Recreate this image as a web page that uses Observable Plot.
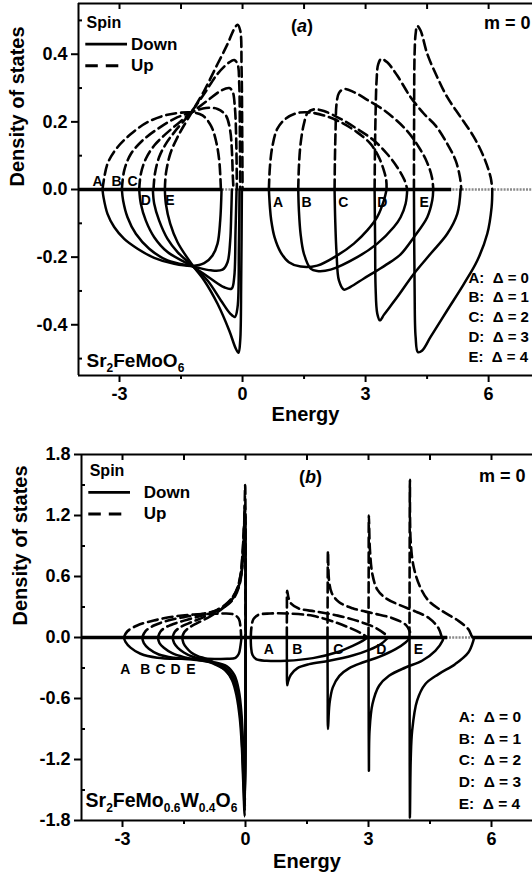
<!DOCTYPE html>
<html><head><meta charset="utf-8">
<script src="https://cdn.jsdelivr.net/npm/d3@7"></script>
<script src="https://cdn.jsdelivr.net/npm/@observablehq/plot@0.6"></script>
<style>
html,body{margin:0;padding:0;background:#fff;}
svg{display:block;}
</style></head><body><div id="chart"></div>
<script>
// ---------- ticks ----------
const xTicks = [-3, 0, 3, 6];
const xMinor = [-1.5, 1.5, 4.5];
const yTicksA = [-0.4, -0.2, 0, 0.2, 0.4];
const yMinorA = [-0.5, -0.3, -0.1, 0.1, 0.3, 0.5];
const yTicksB = [-1.8, -1.2, -0.6, 0, 0.6, 1.2, 1.8];
const yMinorB = [-1.5, -0.9, -0.3, 0.3, 0.9, 1.5];
const deltaNames = ["A", "B", "C", "D", "E"];
const deltaValues = [0, 1, 2, 3, 4];

// ---------- panel (a): Sr2FeMoO6, [energy, DOS] ----------
const aLowDownA = [[-3.415,0],[-3.39,-0.023],[-3.293,-0.072],[-3.13,-0.111],[-2.886,-0.146],[-2.561,-0.175],[-2.154,-0.202],[-1.667,-0.22],[-1.22,-0.226],[-0.935,-0.218],[-0.732,-0.195],[-0.61,-0.16],[-0.545,-0.092],[-0.512,0]];
const aLowDownB = [[-2.943,0],[-2.911,-0.033],[-2.805,-0.082],[-2.602,-0.131],[-2.276,-0.175],[-1.829,-0.21],[-1.22,-0.227],[-0.772,-0.239],[-0.488,-0.237],[-0.366,-0.215],[-0.301,-0.151],[-0.276,-0.072],[-0.26,0]];
const aLowDownC = [[-2.52,0],[-2.48,-0.042],[-2.358,-0.092],[-2.154,-0.141],[-1.829,-0.185],[-1.22,-0.227],[-0.772,-0.264],[-0.447,-0.289],[-0.268,-0.293],[-0.203,-0.259],[-0.171,-0.121],[-0.146,0]];
const aLowDownD = [[-2.187,0],[-2.154,-0.042],[-2.033,-0.092],[-1.829,-0.146],[-1.585,-0.185],[-1.22,-0.226],[-0.854,-0.269],[-0.528,-0.328],[-0.301,-0.367],[-0.187,-0.377],[-0.122,-0.348],[-0.089,-0.17],[-0.073,0]];
const aLowDownE = [[-1.894,0],[-1.87,-0.042],[-1.764,-0.101],[-1.585,-0.156],[-1.22,-0.224],[-0.935,-0.269],[-0.61,-0.338],[-0.325,-0.417],[-0.163,-0.471],[-0.098,-0.483],[-0.057,-0.446],[-0.033,-0.269],[-0.016,0]];

const aLowUpA = [[-3.415,0],[-3.293,0.076],[-3.049,0.125],[-2.724,0.164],[-2.317,0.199],[-1.829,0.221],[-1.26,0.228],[-0.976,0.219],[-0.772,0.189],[-0.65,0.145],[-0.569,0.086],[-0.528,0]];
const aLowUpB = [[-2.943,0],[-2.886,0.056],[-2.724,0.105],[-2.439,0.145],[-2.073,0.179],[-1.667,0.209],[-1.26,0.228],[-0.894,0.241],[-0.61,0.238],[-0.407,0.219],[-0.301,0.174],[-0.26,0.115],[-0.236,0.036],[-0.22,0]];
const aLowUpC = [[-2.52,0],[-2.48,0.046],[-2.358,0.091],[-2.154,0.13],[-1.911,0.16],[-1.585,0.194],[-1.26,0.226],[-0.854,0.263],[-0.528,0.292],[-0.325,0.3],[-0.244,0.29],[-0.187,0.243],[-0.154,0.145],[-0.138,0]];
const aLowUpD = [[-2.171,0],[-2.138,0.046],[-2.033,0.096],[-1.87,0.135],[-1.667,0.169],[-1.26,0.228],[-0.935,0.283],[-0.61,0.342],[-0.325,0.376],[-0.203,0.383],[-0.122,0.371],[-0.081,0.312],[-0.065,0.164],[-0.057,0]];
const aLowUpE = [[-1.894,0],[-1.87,0.046],[-1.764,0.105],[-1.585,0.155],[-1.26,0.224],[-0.935,0.292],[-0.61,0.371],[-0.366,0.43],[-0.203,0.475],[-0.122,0.487],[-0.057,0.47],[-0.024,0.361],[-0.008,0.164],[0,0]];

const aHighDownA = [[0.642,0],[0.667,-0.052],[0.699,-0.091],[0.78,-0.141],[0.927,-0.185],[1.13,-0.215],[1.415,-0.228],[1.82,-0.225],[2.309,-0.195],[2.715,-0.16],[3.04,-0.121],[3.285,-0.081],[3.447,-0.032],[3.512,0]];
const aHighDownB = [[1.358,0],[1.374,-0.062],[1.415,-0.131],[1.496,-0.19],[1.659,-0.234],[1.82,-0.241],[2.146,-0.237],[2.797,-0.2],[3.285,-0.16],[3.69,-0.111],[3.854,-0.082],[3.976,-0.042],[4.016,0]];
const aHighDownC = [[2.244,0],[2.26,-0.092],[2.293,-0.19],[2.35,-0.269],[2.472,-0.296],[2.634,-0.288],[2.959,-0.263],[3.285,-0.239],[3.61,-0.214],[3.854,-0.192],[4.179,-0.141],[4.504,-0.082],[4.626,-0.032],[4.65,0]];
const aHighDownD = [[3.22,0],[3.232,-0.15],[3.244,-0.289],[3.285,-0.367],[3.35,-0.387],[3.45,-0.37],[3.772,-0.318],[4.179,-0.249],[4.585,-0.19],[4.992,-0.131],[5.236,-0.072],[5.317,0]];
const aHighDownE = [[4.179,0],[4.195,-0.289],[4.22,-0.436],[4.276,-0.481],[4.382,-0.476],[4.585,-0.436],[4.992,-0.357],[5.398,-0.279],[5.724,-0.21],[5.967,-0.131],[6.073,-0.052],[6.089,0]];

const aHighUpA = [[0.642,0],[0.667,0.066],[0.724,0.125],[0.846,0.179],[1.049,0.209],[1.333,0.226],[1.618,0.228],[1.984,0.219],[2.39,0.199],[2.797,0.169],[3.122,0.135],[3.325,0.095],[3.447,0.056],[3.504,0.027],[3.512,0]];
const aHighUpB = [[1.358,0],[1.374,0.066],[1.415,0.135],[1.496,0.194],[1.593,0.228],[1.74,0.237],[1.984,0.232],[2.39,0.209],[2.797,0.179],[3.203,0.145],[3.528,0.105],[3.772,0.066],[3.951,0.027],[4.016,0]];
const aHighUpC = [[2.244,0],[2.252,0.086],[2.268,0.175],[2.293,0.254],[2.35,0.285],[2.472,0.297],[2.715,0.288],[3.04,0.265],[3.5,0.23],[4.0,0.175],[4.3,0.125],[4.5,0.08],[4.62,0.035],[4.65,0]];
const aHighUpD = [[3.22,0],[3.228,0.105],[3.244,0.224],[3.268,0.322],[3.309,0.371],[3.382,0.386],[3.528,0.376],[3.772,0.337],[4.098,0.273],[4.423,0.224],[4.707,0.189],[4.992,0.135],[5.195,0.086],[5.301,0.036],[5.333,0]];
const aHighUpE = [[4.179,0],[4.183,0.204],[4.195,0.401],[4.22,0.46],[4.26,0.484],[4.341,0.47],[4.504,0.401],[4.748,0.332],[4.992,0.273],[5.317,0.214],[5.642,0.155],[5.886,0.095],[6.049,0.036],[6.089,0]];

const aBaseThick = [[-4, -0.5], [-0.02, 5.1]];

// ---------- panel (b): Sr2FeMo0.6W0.4O6 ----------
const bLowDownA = [[-2.967,0],[-2.927,-0.043],[-2.805,-0.1],[-2.561,-0.16],[-2.154,-0.199],[-1.585,-0.21],[-0.935,-0.21],[-0.447,-0.21],[-0.244,-0.2],[-0.163,-0.16],[-0.122,-0.08],[-0.098,0]];
const bLowDownB = [[-2.52,0],[-2.48,-0.056],[-2.358,-0.111],[-2.114,-0.167],[-1.748,-0.2],[-1.26,-0.219],[-0.772,-0.242],[-0.447,-0.285],[-0.268,-0.373],[-0.163,-0.521],[-0.098,-0.75],[-0.057,-1.077],[-0.033,-1.405],[-0.012,-1.6],[0.004,0]];
const bLowDownC = [[-2.138,0],[-2.098,-0.056],[-1.992,-0.101],[-1.789,-0.154],[-1.504,-0.193],[-1.179,-0.219],[-0.772,-0.252],[-0.488,-0.298],[-0.301,-0.39],[-0.187,-0.537],[-0.114,-0.766],[-0.073,-1.077],[-0.041,-1.405],[-0.014,-1.66],[0.004,0]];
const bLowDownD = [[-1.78,0],[-1.74,-0.056],[-1.65,-0.101],[-1.504,-0.147],[-1.301,-0.187],[-1.057,-0.213],[-0.772,-0.259],[-0.528,-0.311],[-0.325,-0.406],[-0.203,-0.553],[-0.122,-0.783],[-0.081,-1.077],[-0.049,-1.405],[-0.016,-1.71],[0.004,0]];
const bLowDownE = [[-1.545,0],[-1.512,-0.056],[-1.439,-0.101],[-1.325,-0.147],[-1.163,-0.183],[-0.935,-0.213],[-0.691,-0.265],[-0.488,-0.324],[-0.325,-0.422],[-0.22,-0.57],[-0.138,-0.799],[-0.089,-1.077],[-0.057,-1.405],[-0.018,-1.76],[0.004,0]];

const bLowUpA = [[-2.967,0],[-2.886,0.059],[-2.642,0.118],[-2.236,0.167],[-1.748,0.206],[-1.26,0.226],[-0.854,0.232],[-0.528,0.236],[-0.285,0.226],[-0.163,0.183],[-0.122,0.101],[-0.106,0]];
const bLowUpB = [[-2.52,0],[-2.439,0.062],[-2.236,0.118],[-1.911,0.164],[-1.504,0.2],[-1.098,0.229],[-0.854,0.249],[-0.61,0.282],[-0.407,0.331],[-0.268,0.396],[-0.163,0.494],[-0.098,0.625],[-0.057,0.855],[-0.033,1.05],[-0.012,1.2],[0.004,0]];
const bLowUpC = [[-2.138,0],[-2.073,0.059],[-1.911,0.108],[-1.626,0.151],[-1.26,0.193],[-0.935,0.232],[-0.691,0.272],[-0.488,0.324],[-0.325,0.39],[-0.203,0.478],[-0.122,0.609],[-0.073,0.822],[-0.041,1.05],[-0.014,1.25],[0.004,0]];
const bLowUpD = [[-1.78,0],[-1.724,0.056],[-1.585,0.102],[-1.341,0.147],[-1.057,0.193],[-0.813,0.239],[-0.61,0.282],[-0.447,0.331],[-0.301,0.403],[-0.187,0.501],[-0.114,0.632],[-0.065,0.855],[-0.033,1.1],[-0.014,1.3],[0.004,0]];
const bLowUpE = [[-1.545,0],[-1.496,0.052],[-1.382,0.095],[-1.179,0.141],[-0.935,0.19],[-0.732,0.239],[-0.545,0.291],[-0.382,0.347],[-0.252,0.422],[-0.154,0.521],[-0.089,0.658],[-0.049,0.887],[-0.024,1.215],[-0.008,1.5],[0.004,0]];

const bHighDownA = [[0.129,0],[0.137,-0.098],[0.169,-0.17],[0.258,-0.213],[0.516,-0.229],[1.0,-0.229],[1.645,-0.203],[2.21,-0.147],[2.613,-0.082],[2.855,-0.033],[2.976,0]];
const bHighDownB = [[1.008,0],[1.01,-0.3],[1.016,-0.47],[1.04,-0.432],[1.106,-0.367],[1.268,-0.301],[1.553,-0.262],[2.04,-0.229],[2.61,-0.177],[3.016,-0.121],[3.301,-0.065],[3.48,0]];
const bHighDownC = [[2.0,0],[2.004,-0.5],[2.012,-0.9],[2.048,-0.655],[2.129,-0.491],[2.29,-0.377],[2.532,-0.301],[2.855,-0.246],[3.258,-0.19],[3.661,-0.115],[3.903,-0.049],[4.024,0]];
const bHighDownD = [[3.0,0],[3.004,-0.7],[3.01,-1.31],[3.025,-0.92],[3.097,-0.655],[3.258,-0.475],[3.5,-0.377],[3.903,-0.295],[4.306,-0.229],[4.629,-0.131],[4.806,-0.033],[4.823,0]];
const bHighDownE = [[4.0,0],[4.004,-0.9],[4.01,-1.77],[4.03,-1.2],[4.065,-0.917],[4.185,-0.622],[4.387,-0.458],[4.71,-0.36],[5.113,-0.262],[5.435,-0.147],[5.556,-0.033],[5.573,0]];

const bHighUpA = [[0.129,0],[0.145,0.098],[0.194,0.18],[0.315,0.223],[0.597,0.236],[1.0,0.236],[1.645,0.213],[2.21,0.147],[2.613,0.082],[2.855,0.033],[2.976,0]];
const bHighUpB = [[1.008,0],[1.01,0.3],[1.016,0.46],[1.05,0.39],[1.12,0.33],[1.3,0.285],[1.72,0.255],[2.25,0.215],[2.75,0.16],[3.15,0.1],[3.4,0.035],[3.49,0]];
const bHighUpC = [[2.0,0],[2.004,0.45],[2.012,0.85],[2.04,0.55],[2.106,0.435],[2.285,0.347],[2.61,0.288],[3.098,0.239],[3.585,0.19],[3.911,0.124],[4.008,0.059],[4.04,0]];
const bHighUpD = [[3.0,0],[3.004,0.6],[3.01,1.2],[3.033,0.878],[3.098,0.616],[3.22,0.468],[3.423,0.386],[3.748,0.321],[4.154,0.255],[4.48,0.19],[4.707,0.092],[4.789,0]];
const bHighUpE = [[4.0,0],[4.004,0.8],[4.01,1.55],[4.028,0.95],[4.105,0.688],[4.266,0.491],[4.468,0.36],[4.79,0.262],[5.194,0.164],[5.435,0.082],[5.516,0.016],[5.54,0]];

const bBaseThick = [[-4, 4.93], [5.55, 7]];

// ---------- helpers ----------
const FONT = "'Liberation Sans', Arial, Helvetica, sans-serif";
const NS = "http://www.w3.org/2000/svg";

function curveRows(curves, tag) {
  return curves.flatMap((pts, i) => pts.map(([x, y]) => ({x, y, id: tag + i})));
}
function T(x, y, text, opts = {}) {
  return Plot.text([{x, y, text}], {x: "x", y: "y", text: "text", fontFamily: FONT, fontWeight: "bold",
    lineAnchor: "bottom", fill: "black", ...opts});
}
function rich(svg, marker, parts) {
  for (const t of svg.querySelectorAll("text")) {
    if (t.textContent !== marker) continue;
    while (t.firstChild) t.removeChild(t.firstChild);
    let off = 0;
    for (const [s, k] of parts) {
      const ts = document.createElementNS(NS, "tspan");
      ts.textContent = s;
      const target = k === "sub" ? 5 : 0;
      if (target !== off) ts.setAttribute("dy", target - off);
      off = target;
      if (k === "sub") ts.setAttribute("font-size", "12px");
      if (k === "it") ts.setAttribute("font-style", "italic");
      t.appendChild(ts);
    }
  }
}

function makePanel(cfg) {
  const {xDomain, yDomain, yTicks, yMinor, marginLeft, marginTop, marginBottom, height,
         down, up, baseThick, texts, ylabelDy, energyDy, legend} = cfg;
  const rowsDown = curveRows(down, "d");
  const rowsUp = curveRows(up, "u");
  return Plot.plot({
    width: 532, height, marginLeft, marginRight: 0, marginTop, marginBottom,
    style: {fontFamily: FONT, fontWeight: "bold", color: "black", background: "white", overflow: "visible"},
    x: {domain: xDomain},
    y: {domain: yDomain},
    marks: [
      Plot.ruleY([0], {stroke: "#8a8a8a", strokeWidth: 2.6, strokeDasharray: "2,1.2"}),
      Plot.ruleY(baseThick, {x1: d => d[0], x2: d => d[1], y: () => 0, stroke: "black", strokeWidth: 3.6}),
      Plot.line(rowsDown, {x: "x", y: "y", z: "id", curve: "catmull-rom", stroke: "black", strokeWidth: 2.5}),
      Plot.line(rowsUp, {x: "x", y: "y", z: "id", curve: "catmull-rom", stroke: "black", strokeWidth: 2.6, strokeDasharray: "10,5"}),
      // frame
      Plot.ruleX([xDomain[0]], {stroke: "black", strokeWidth: 2}),
      Plot.ruleY(yDomain, {stroke: "black", strokeWidth: 2}),
      // axes
      Plot.axisX(xTicks, {anchor: "bottom", tickSize: 7, tickPadding: 5, strokeWidth: 2, tickFormat: d => String(d),
        fontSize: 18, fontWeight: "bold", fontFamily: FONT, label: null}),
      Plot.axisX(xMinor, {anchor: "bottom", tickSize: 4, strokeWidth: 2, tickFormat: () => "", fill: "none", label: null}),
      Plot.axisX(xTicks.concat(xMinor), {anchor: "top", tickSize: 5, strokeWidth: 2, dy: 5, tickFormat: () => "", fill: "none", label: null}),
      Plot.axisY(yTicks, {anchor: "left", tickSize: 7, tickPadding: 4, strokeWidth: 2, tickFormat: d => d.toFixed(1),
        fontSize: 18, fontWeight: "bold", fontFamily: FONT, label: null}),
      Plot.axisY(yMinor, {anchor: "left", tickSize: 4, strokeWidth: 2, dx: 4, tickFormat: () => "", fill: "none", label: null}),
      // axis titles
      Plot.text(["Energy"], {text: d => d, frameAnchor: "bottom", dy: energyDy, lineAnchor: "bottom",
        fontSize: 20, fontWeight: "bold", fontFamily: FONT, fill: "black"}),
      Plot.text(["Density of states"], {text: d => d, frameAnchor: "left", rotate: -90, dx: -61, dy: ylabelDy,
        fontSize: 20, fontWeight: "bold", fontFamily: FONT, fill: "black"}),
      // spin legend
      Plot.ruleY([legend.solidY], {x1: legend.x1, x2: legend.x2Solid, y: () => legend.solidY, stroke: "black", strokeWidth: 2.8}),
      Plot.ruleY([legend.dashY], {x1: legend.x1, x2: legend.x2Dash, y: () => legend.dashY, stroke: "black", strokeWidth: 2.8, strokeDasharray: "12.5,8"}),
      ...texts
    ]
  });
}

// ---------- panel (a) ----------
const aRowsY = [-0.275, -0.334, -0.393, -0.452, -0.511];
const svgA = makePanel({
  xDomain: [-4, 7.07], yDomain: [-0.55, 0.55], yTicks: yTicksA, yMinor: yMinorA,
  marginLeft: 78, marginTop: 3, marginBottom: 65, height: 440,
  down: [aLowDownA, aLowDownB, aLowDownC, aLowDownD, aLowDownE, aHighDownA, aHighDownB, aHighDownC, aHighDownD, aHighDownE],
  up: [aLowUpA, aLowUpB, aLowUpC, aLowUpD, aLowUpE, aHighUpA, aHighUpB, aHighUpC, aHighUpD, aHighUpE],
  baseThick: aBaseThick, ylabelDy: -3, energyDy: 45,
  legend: {x1: -3.822, x2Solid: -2.805, x2Dash: -3.007, solidY: 0.43, dashY: 0.366},
  texts: [
    T(-3.805, 0.4786, "Spin", {fontSize: 16, textAnchor: "start"}),
    T(-2.72, 0.412, "Down", {fontSize: 17, textAnchor: "start"}),
    T(-2.72, 0.349, "Up", {fontSize: 17, textAnchor: "start"}),
    T(1.45, 0.467, "(a)", {fontSize: 18, textAnchor: "middle"}),
    T(7.02, 0.476, "m = 0", {fontSize: 18, textAnchor: "end"}),
    ...deltaNames.map((n, i) => T(5.51, aRowsY[i], `${n}:\u00a0\u00a0\u0394 = ${deltaValues[i]}`, {fontSize: 15, textAnchor: "start"})),
    T(-3.805, -0.526, "Sr2FeMoO6", {fontSize: 19, textAnchor: "start"}),
    T(-3.537, 0.0118, "A", {fontSize: 14}), T(-3.073, 0.0118, "B", {fontSize: 14}), T(-2.683, 0.0118, "C", {fontSize: 14}),
    T(-2.359, -0.047, "D", {fontSize: 14}), T(-1.768, -0.047, "E", {fontSize: 14}),
    T(0.866, -0.0523, "A", {fontSize: 14}), T(1.56, -0.0523, "B", {fontSize: 14}), T(2.46, -0.0523, "C", {fontSize: 14}),
    T(3.41, -0.0523, "D", {fontSize: 14}), T(4.43, -0.0523, "E", {fontSize: 14})
  ]
});

// ---------- panel (b) ----------
const bRowsY = [-0.832, -1.044, -1.257, -1.470, -1.683];
const svgB = makePanel({
  xDomain: [-4, 7], yDomain: [-1.8, 1.8], yTicks: yTicksB, yMinor: yMinorB,
  marginLeft: 81, marginTop: 14, marginBottom: 59, height: 439,
  down: [bLowDownA, bLowDownB, bLowDownC, bLowDownD, bLowDownE, bHighDownA, bHighDownB, bHighDownC, bHighDownD, bHighDownE],
  up: [bLowUpA, bLowUpB, bLowUpC, bLowUpD, bLowUpE, bHighUpA, bHighUpB, bHighUpC, bHighUpD, bHighUpE],
  baseThick: bBaseThick, ylabelDy: -12, energyDy: 47,
  legend: {x1: -3.822, x2Solid: -2.805, x2Dash: -3.007, solidY: 1.427, dashY: 1.215},
  texts: [
    T(-3.80, 1.591, "Spin", {fontSize: 16, textAnchor: "start"}),
    T(-2.48, 1.370, "Down", {fontSize: 17, textAnchor: "start"}),
    T(-2.48, 1.164, "Up", {fontSize: 17, textAnchor: "start"}),
    T(1.585, 1.523, "(b)", {fontSize: 18, textAnchor: "middle"}),
    T(6.83, 1.526, "m = 0", {fontSize: 18, textAnchor: "end"}),
    ...deltaNames.map((n, i) => T(5.2, bRowsY[i], `${n}:\u00a0\u00a0\u0394 = ${deltaValues[i]}`, {fontSize: 15.5, textAnchor: "start"})),
    T(-3.902, -1.667, "Sr2FeMo0.6W0.4O6", {fontSize: 19.5, textAnchor: "start"}),
    T(-2.934, -0.357, "A", {fontSize: 14}), T(-2.446, -0.357, "B", {fontSize: 14}), T(-2.073, -0.357, "C", {fontSize: 14}),
    T(-1.707, -0.357, "D", {fontSize: 14}), T(-1.329, -0.357, "E", {fontSize: 14}),
    T(0.568, -0.167, "A", {fontSize: 14}), T(1.261, -0.167, "B", {fontSize: 14}), T(2.264, -0.167, "C", {fontSize: 14}),
    T(3.312, -0.167, "D", {fontSize: 14}), T(4.22, -0.167, "E", {fontSize: 14})
  ]
});

rich(svgA, "Sr2FeMoO6", [["Sr"], ["2", "sub"], ["FeMoO"], ["6", "sub"]]);
rich(svgA, "(a)", [["("], ["a", "it"], [")"]]);
rich(svgB, "Sr2FeMo0.6W0.4O6", [["Sr"], ["2", "sub"], ["FeMo"], ["0.6", "sub"], ["W"], ["0.4", "sub"], ["O"], ["6", "sub"]]);
rich(svgB, "(b)", [["("], ["b", "it"], [")"]]);

const host = document.getElementById("chart");
host.appendChild(svgA);
host.appendChild(svgB);
</script></body></html>
